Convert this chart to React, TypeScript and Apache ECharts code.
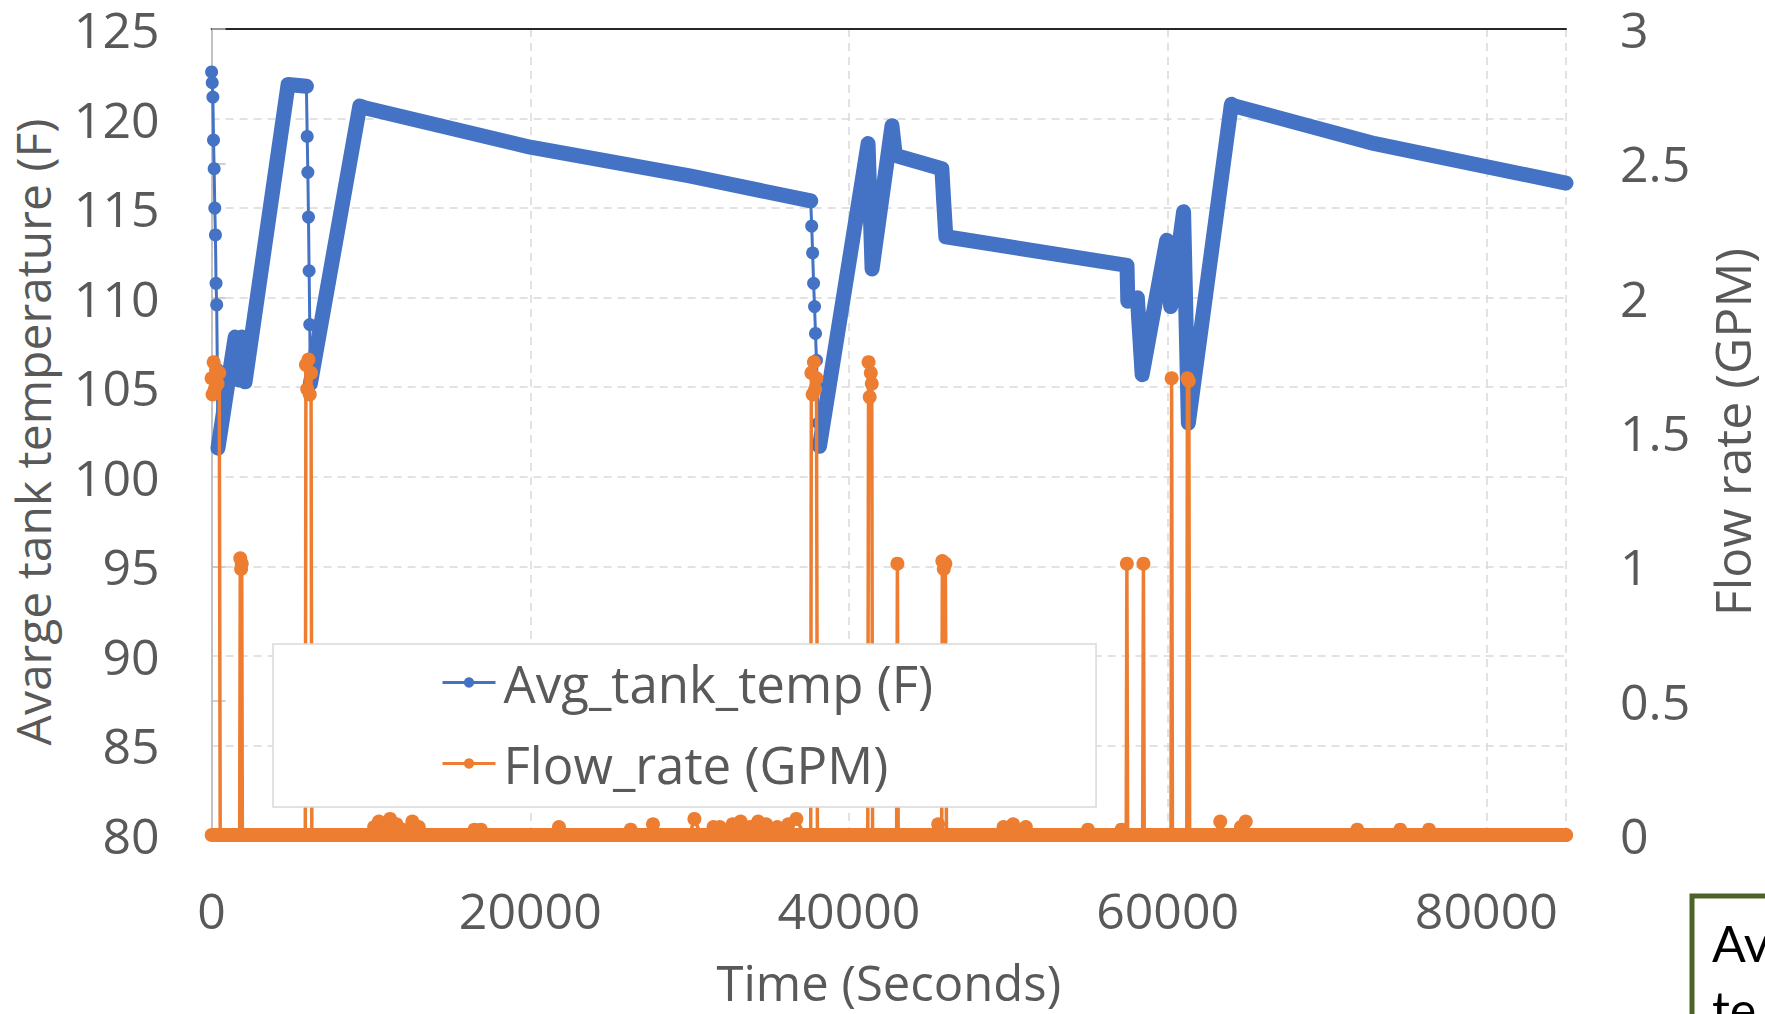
import React, { useEffect, useRef } from "react";
import * as echarts from "echarts";

// ---------- data ----------
// Time axis (seconds)
const xMin = 0;
const xMax = 85000;
const xStep = 20000;
// Left axis: average tank temperature (F)
const tempMin = 80;
const tempMax = 125;
const tempStep = 5;
// Right axis: flow rate (GPM)
const flowMin = 0;
const flowMax = 3;
const flowStep = 0.5;

// Fast temperature drops (sparse samples); null separates the three drops
const dropTime = [
  0, 40, 80, 120, 160, 200, 240, 280, 320, 360, 400, null,
  5950, 6000, 6040, 6080, 6120, 6160, 6200, null,
  37600, 37660, 37720, 37780, 37840, 37900, 37960, 38020, 38080, 38150,
];
const dropTemp = [
  122.6, 122.0, 121.2, 118.8, 117.2, 115.0, 113.5, 110.8, 109.6, 106.0, 101.6, null,
  121.8, 119.0, 117.0, 114.5, 111.5, 108.5, 105.2, null,
  115.4, 114.0, 112.5, 110.8, 109.5, 108.0, 106.5, 105.0, 103.0, 101.7,
];

// Dense temperature segments (heating / slow cooling); null separates segments
const tempTime = [
  400, 900, 1480, 1700, 1900, 2100, 4800, 5950, null,
  6200, 9300, 9600, 20000, 30000, 37600, null,
  38150, 41200, 41450, 42700, 42900, 43100, 45830, 45950, 46080, 57450, 57500, 58100, 58400,
  59940, 60190, 61000, 61300, 64000, 64200, 73000, 85000,
];
const tempValue = [
  101.6, 104.5, 107.8, 105.4, 107.8, 105.3, 121.9, 121.8, null,
  105.2, 120.7, 120.6, 118.4, 116.8, 115.4, null,
  101.7, 118.6, 111.6, 119.6, 118.0, 117.9, 117.2, 115.3, 113.4, 111.8, 109.8, 110.0, 105.7,
  113.2, 109.5, 114.8, 103.0, 120.8, 120.7, 118.6, 116.4,
];

// Flow rate samples
const flowTime = [
  0, 60, 130, 200, 280, 380, 480, 540,
  1760, 1800, 1850, 1890, 1930,
  5880, 5920, 6000, 6080, 6160, 6240, 6290,
  9900, 10200, 10500, 10800, 11200, 11600, 12000, 12600, 13000, 13400,
  16200, 16500, 16900, 17200,
  21500, 21800, 22100,
  26000, 26300, 26900, 27300, 27700, 28100,
  30000, 30300, 30700, 31200, 31500, 31900, 32300, 32700, 33200, 33800, 34300, 34800, 35500, 36200, 36700, 37200,
  37600, 37640, 37720, 37800, 37880, 37960, 38020,
  41180, 41230, 41300, 41370, 41430, 41480,
  42990, 43040, 43090,
  45400, 45600, 45820, 45860, 45950, 46050, 46120,
  49400, 49700, 50000, 50300, 50600, 51100, 51400,
  54800, 55000, 55200,
  57000, 57100, 57200,
  57400, 57440, 57490,
  58430, 58480, 58530,
  60210, 60250, 60300,
  61200, 61240, 61330, 61380,
  63000, 63300, 63600, 64300, 64600, 64900, 65200,
  71700, 71900, 72100,
  74400, 74600, 74800,
  76200, 76400, 76600,
  85000,
];
const flowRate = [
  1.70, 1.64, 1.76, 1.66, 1.73, 1.68, 1.72, 0,
  0, 1.03, 0.99, 1.01, 0,
  0, 1.75, 1.66, 1.77, 1.64, 1.72, 0,
  0, 0.03, 0.05, 0.03, 0.06, 0.04, 0.02, 0.05, 0.03, 0,
  0, 0.02, 0.02, 0,
  0, 0.03, 0,
  0, 0.02, 0, 0, 0.04, 0,
  0, 0.06, 0, 0, 0.03, 0.03, 0, 0.04, 0.05, 0.03, 0.05, 0.04, 0.03, 0.04, 0.06, 0,
  0, 1.72, 1.64, 1.76, 1.66, 1.70, 0,
  0, 1.76, 1.63, 1.72, 1.68, 0,
  0, 1.01, 0,
  0, 0.04, 0, 1.02, 0.99, 1.01, 0,
  0, 0.03, 0, 0.04, 0, 0.03, 0,
  0, 0.02, 0,
  0, 0.02, 0,
  0, 1.01, 0,
  0, 1.01, 0,
  0, 1.70, 0,
  0, 1.70, 1.69, 0,
  0, 0.05, 0, 0, 0.03, 0.05, 0,
  0, 0.02, 0,
  0, 0.02, 0,
  0, 0.02, 0,
  0,
];

const TEMP_NAME = "Avg_tank_temp (F)";
const FLOW_NAME = "Flow_rate (GPM)";
const X_NAME = "Time (Seconds)";
const LEFT_NAME = "Avarge tank temperature (F)";
const RIGHT_NAME = "Flow rate (GPM)";
const NOTE_TEXT = "Av\nte";

// ---------- styles ----------
const FONT = '"Open Sans", Lato, "Noto Sans", sans-serif';
const TEXT = "#595959";
const BLUE = "#4472C4";
const ORANGE = "#ED7D31";
const GRID = "#d9d9d9";
const AXIS = "#bfbfbf";

function pairs(times: (number | null)[], vals: (number | null)[]) {
  let last = 0;
  return times.map((t, i) => {
    if (t === null || vals[i] === null) return [last, "-"];
    last = t;
    return [t, vals[i]];
  });
}

export default function App() {
  const ref = useRef<HTMLDivElement>(null);

  useEffect(() => {
    if (!ref.current) return;
    const chart = echarts.init(ref.current, undefined, { renderer: "svg" });
    const tick = { fontSize: 50, lineHeight: 50, color: TEXT, fontFamily: FONT };
    const option: any = {
      animation: false,
      backgroundColor: "#ffffff",
      textStyle: { fontFamily: FONT },
      grid: { left: 211.6, right: 198, top: 29, bottom: 179, containLabel: false },
      legend: {
        data: [TEMP_NAME, FLOW_NAME],
        orient: "vertical",
        left: 273,
        top: 644,
        padding: [13, 163, 18, 168],
        itemGap: 30,
        itemWidth: 53,
        itemHeight: 13,
        backgroundColor: "#ffffff",
        borderColor: GRID,
        borderWidth: 1.5,
        lineStyle: { width: 3 },
        textStyle: { fontSize: 51, color: TEXT, fontFamily: FONT, padding: [0, 0, 0, 3] },
      },
      xAxis: [
        {
          type: "value",
          position: "bottom",
          min: xMin,
          max: xMax,
          interval: xStep,
          name: X_NAME,
          nameLocation: "middle",
          nameGap: 122,
          nameTextStyle: { fontSize: 49, color: TEXT, fontFamily: FONT },
          axisLine: { show: true, lineStyle: { color: AXIS, width: 1.5 } },
          axisTick: { show: false },
          axisLabel: {
            ...tick,
            margin: 50,
            showMaxLabel: false,
            formatter: (v: number) => String(v),
          },
          splitLine: { show: true, lineStyle: { color: GRID, width: 1.5, type: [8, 6] } },
        },
        {
          type: "value",
          position: "top",
          min: xMin,
          max: xMax,
          axisLine: { show: true, lineStyle: { color: "#262626", width: 2 } },
          axisTick: { show: false },
          axisLabel: { show: false },
          splitLine: { show: false },
        },
      ],
      yAxis: [
        {
          type: "value",
          position: "left",
          min: tempMin,
          max: tempMax,
          interval: tempStep,
          name: LEFT_NAME,
          nameLocation: "middle",
          nameGap: 155,
          nameTextStyle: { fontSize: 48, color: TEXT, fontFamily: FONT },
          axisLine: { show: true, lineStyle: { color: AXIS, width: 1.5 } },
          axisTick: { show: false },
          axisLabel: { ...tick, margin: 52 },
          splitLine: { show: true, lineStyle: { color: GRID, width: 1.5, type: [8, 6] } },
        },
        {
          type: "value",
          position: "right",
          min: flowMin,
          max: flowMax,
          interval: flowStep,
          name: RIGHT_NAME,
          nameLocation: "middle",
          nameGap: 141,
          nameRotate: 90,
          nameTextStyle: { fontSize: 50, color: TEXT, fontFamily: FONT },
          axisLine: { show: true, lineStyle: { color: AXIS, width: 1.5 } },
          axisTick: { show: true, inside: false, length: 14, lineStyle: { color: AXIS, width: 1.5 } },
          axisLabel: { ...tick, margin: 54 },
          splitLine: { show: false },
        },
      ],
      series: [
        {
          name: TEMP_NAME,
          type: "line",
          xAxisIndex: 0,
          yAxisIndex: 0,
          data: pairs(dropTime, dropTemp),
          symbol: "circle",
          symbolSize: 13,
          showSymbol: true,
          connectNulls: false,
          itemStyle: { color: BLUE },
          lineStyle: { color: BLUE, width: 3 },
          z: 2,
        },
        {
          name: TEMP_NAME,
          type: "line",
          xAxisIndex: 0,
          yAxisIndex: 0,
          data: pairs(tempTime, tempValue),
          symbol: "none",
          connectNulls: false,
          itemStyle: { color: BLUE },
          lineStyle: { color: BLUE, width: 15, cap: "round", join: "round" },
          z: 2,
        },
        {
          name: FLOW_NAME,
          type: "line",
          xAxisIndex: 0,
          yAxisIndex: 1,
          data: pairs(flowTime, flowRate),
          symbol: "circle",
          symbolSize: 14,
          showSymbol: true,
          itemStyle: { color: ORANGE },
          lineStyle: { color: ORANGE, width: 3.5 },
          z: 3,
          markLine: {
            silent: true,
            symbol: ["none", "none"],
            label: { show: false },
            lineStyle: { color: ORANGE, width: 14, type: "solid", cap: "round" },
            data: [[{ coord: [xMin, 0] }, { coord: [xMax, 0] }]],
          },
        },
      ],
      graphic: [
        {
          type: "rect",
          shape: { x: 1692, y: 896, width: 200, height: 200 },
          style: { fill: "#ffffff", stroke: "#4F6228", lineWidth: 5 },
          z: 10,
        },
        {
          type: "text",
          x: 1712,
          y: 910,
          style: { text: NOTE_TEXT, fill: "#000000", font: "50px Lato", lineHeight: 66 },
          z: 11,
        },
      ],
    };
    chart.setOption(option);
    return () => chart.dispose();
  }, []);

  return (
    <div
      ref={ref}
      style={{ position: "fixed", left: 0, top: 0, width: 1765, height: 1014, background: "#fff" }}
    />
  );
}
